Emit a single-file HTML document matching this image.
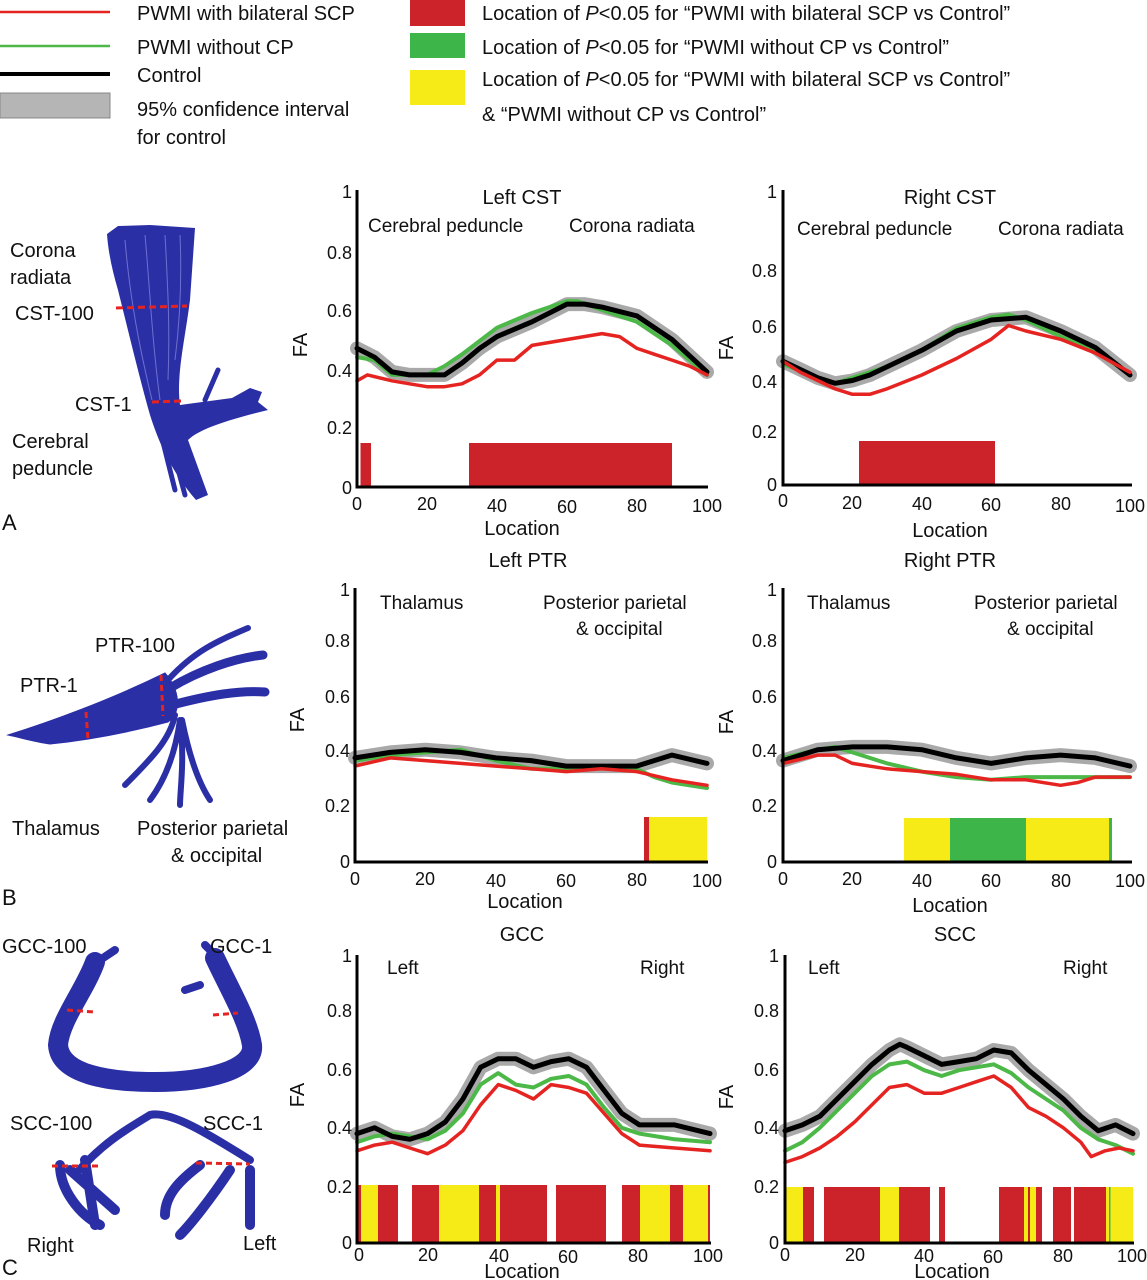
<!DOCTYPE html>
<html><head><meta charset="utf-8">
<style>
html,body{margin:0;padding:0;background:#fff;}
svg{display:block;}
text{font-family:"Liberation Sans",sans-serif;fill:#111;}
.lg{font-size:20px;}
.t{font-size:20px;text-anchor:middle;}
.r{font-size:19px;}
.tk{font-size:18px;text-anchor:end;}
.tx{font-size:18px;text-anchor:middle;}
.lab{font-size:20px;}
.pl{font-size:22px;}
.ln{fill:none;stroke-linejoin:round;stroke-linecap:round;}
</style></head>
<body>
<svg id="s" width="1147" height="1280" viewBox="0 0 1147 1280" xmlns="http://www.w3.org/2000/svg">
<!-- Legend -->
<line x1="0" y1="12" x2="110" y2="12" stroke="#e52421" stroke-width="2.5"/>
<line x1="0" y1="46" x2="110" y2="46" stroke="#4cb848" stroke-width="2.5"/>
<line x1="0" y1="74" x2="110" y2="74" stroke="#000" stroke-width="4"/>
<rect x="0" y="93" width="110" height="25" fill="#b5b5b5" stroke="#888" stroke-width="1"/>
<text class="lg" x="137" y="20">PWMI with bilateral SCP</text>
<text class="lg" x="137" y="54">PWMI without CP</text>
<text class="lg" x="137" y="82">Control</text>
<text class="lg" x="137" y="116">95% confidence interval</text>
<text class="lg" x="137" y="144">for control</text>
<rect x="410" y="0" width="55" height="26" fill="#cc2229"/>
<rect x="410" y="33" width="55" height="25" fill="#3db549"/>
<rect x="410" y="70" width="55" height="35" fill="#f6eb16"/>
<text class="lg" x="482" y="20">Location of <tspan font-style="italic">P</tspan>&lt;0.05 for “PWMI with bilateral SCP vs  Control”</text>
<text class="lg" x="482" y="54">Location of <tspan font-style="italic">P</tspan>&lt;0.05 for “PWMI without CP vs  Control”</text>
<text class="lg" x="482" y="86">Location of <tspan font-style="italic">P</tspan>&lt;0.05 for “PWMI with bilateral SCP vs  Control”</text>
<text class="lg" x="482" y="121">&amp; “PWMI without CP vs  Control”</text>

<!-- Panel letters -->
<text class="pl" x="2" y="530">A</text>
<text class="pl" x="2" y="905">B</text>
<text class="pl" x="2" y="1275">C</text>

<!-- Brain A -->
<path d="M107,234 L118,226 L150,225 L195,228 L190,300 C185,340 176,375 180,405 L232,398 L250,388 L262,392 L258,402 L268,410 C235,418 200,428 188,440 L208,495 L196,500 C170,470 158,440 150,415 C140,380 128,330 118,290 C112,270 108,250 107,234 Z" fill="#2b2fa6"/>
<g fill="none" stroke="#2b2fa6" stroke-linecap="round">
<path d="M205,400 L218,370" stroke-width="5"/>
<path d="M170,440 L185,495 M160,430 L175,490" stroke-width="5"/>
</g>
<g fill="none" stroke="#6d70d0" stroke-width="1">
<path d="M125,240 C130,300 140,350 152,400 M145,235 C150,290 152,340 160,400 M165,235 C168,290 170,330 168,380 M180,235 C182,280 180,320 175,360"/>
</g>
<line x1="116" y1="308" x2="187" y2="306" stroke="#e52421" stroke-width="3" stroke-dasharray="7,4"/>
<line x1="152" y1="402" x2="182" y2="401" stroke="#e52421" stroke-width="3" stroke-dasharray="7,4"/>
<text class="lab" x="10" y="257">Corona</text>
<text class="lab" x="10" y="284">radiata</text>
<text class="lab" x="15" y="320">CST-100</text>
<text class="lab" x="75" y="411">CST-1</text>
<text class="lab" x="12" y="448">Cerebral</text>
<text class="lab" x="12" y="475">peduncle</text>

<!-- Brain B -->
<g fill="#2b2fa6" stroke="#2b2fa6" stroke-linecap="round">
<path d="M8,735 C50,722 110,700 165,673 C180,690 182,712 168,722 C130,732 90,740 50,744 C35,742 22,738 8,735 Z"/>
<path d="M168,680 C195,650 220,640 248,628" fill="none" stroke-width="6"/>
<path d="M170,688 C200,670 235,658 263,655" fill="none" stroke-width="9"/>
<path d="M172,705 C210,695 240,690 265,692" fill="none" stroke-width="9"/>
<path d="M175,715 C170,740 150,760 125,785 M180,720 C175,755 165,780 150,800 M182,720 C190,760 200,785 210,800 M180,720 C185,760 180,790 180,805" fill="none" stroke-width="6"/>
</g>
<line x1="86" y1="712" x2="88" y2="740" stroke="#e52421" stroke-width="3" stroke-dasharray="6,4"/>
<line x1="161" y1="675" x2="163" y2="716" stroke="#e52421" stroke-width="3" stroke-dasharray="6,4"/>
<text class="lab" x="95" y="652">PTR-100</text>
<text class="lab" x="20" y="692">PTR-1</text>
<text class="lab" x="12" y="835">Thalamus</text>
<text class="lab" x="137" y="835">Posterior parietal</text>
<text class="lab" x="171" y="862">&amp; occipital</text>

<!-- Brain C -->
<g fill="none" stroke="#2b2fa6" stroke-linecap="round">
<path d="M95,962 C85,990 60,1020 58,1045 C60,1075 110,1082 155,1082 C205,1082 255,1070 252,1045 C248,1020 230,990 215,958" stroke-width="20"/>
<path d="M100,960 L115,950 M215,955 L205,945 M200,985 L185,990" stroke-width="8"/>
<path d="M75,1175 C100,1145 125,1130 150,1115 C170,1110 210,1135 250,1160" stroke-width="8"/>
<path d="M60,1165 C60,1190 80,1215 100,1225 M70,1170 L115,1210 M85,1160 L95,1225" stroke-width="10"/>
<path d="M200,1165 C180,1180 165,1195 165,1215 M230,1170 C210,1200 190,1225 180,1235 M250,1170 L250,1225" stroke-width="10"/>
</g>
<line x1="67" y1="1010" x2="94" y2="1012" stroke="#e52421" stroke-width="3" stroke-dasharray="6,4"/>
<line x1="213" y1="1015" x2="238" y2="1013" stroke="#e52421" stroke-width="3" stroke-dasharray="6,4"/>
<line x1="52" y1="1166" x2="100" y2="1166" stroke="#e52421" stroke-width="3" stroke-dasharray="6,4"/>
<line x1="196" y1="1163" x2="250" y2="1164" stroke="#e52421" stroke-width="3" stroke-dasharray="6,4"/>
<text class="lab" x="2" y="953">GCC-100</text>
<text class="lab" x="210" y="953">GCC-1</text>
<text class="lab" x="10" y="1130">SCC-100</text>
<text class="lab" x="203" y="1130">SCC-1</text>
<text class="lab" x="27" y="1252">Right</text>
<text class="lab" x="243" y="1250">Left</text>

<!-- Bars (static) -->
<g id="bars">
<rect x="360.5" y="443" width="10.5" height="44" fill="#cc2229"/>
<rect x="469" y="443" width="203" height="44" fill="#cc2229"/>
<rect x="859" y="441" width="136" height="44" fill="#cc2229"/>
<rect x="644" y="817" width="5" height="45" fill="#cc2229"/>
<rect x="649" y="817" width="58" height="45" fill="#f6eb16"/>
<rect x="904" y="818" width="46" height="44" fill="#f6eb16"/>
<rect x="950" y="818" width="76" height="44" fill="#3db549"/>
<rect x="1026" y="818" width="83" height="44" fill="#f6eb16"/>
<rect x="1109" y="818" width="3" height="44" fill="#3db549"/>
<!-- GCC -->
<rect x="358" y="1185" width="3" height="58" fill="#cc2229"/>
<rect x="361" y="1185" width="17" height="58" fill="#f6eb16"/>
<rect x="378" y="1185" width="20" height="58" fill="#cc2229"/>
<rect x="412" y="1185" width="27" height="58" fill="#cc2229"/>
<rect x="439" y="1185" width="40" height="58" fill="#f6eb16"/>
<rect x="479" y="1185" width="17" height="58" fill="#cc2229"/>
<rect x="496" y="1185" width="4" height="58" fill="#f6eb16"/>
<rect x="500" y="1185" width="47" height="58" fill="#cc2229"/>
<rect x="556" y="1185" width="50" height="58" fill="#cc2229"/>
<rect x="622" y="1185" width="18" height="58" fill="#cc2229"/>
<rect x="640" y="1185" width="30" height="58" fill="#f6eb16"/>
<rect x="670" y="1185" width="13" height="58" fill="#cc2229"/>
<rect x="683" y="1185" width="25" height="58" fill="#f6eb16"/>
<rect x="708" y="1185" width="2" height="58" fill="#cc2229"/>
<!-- SCC -->
<rect x="785" y="1187" width="18" height="56" fill="#f6eb16"/>
<rect x="803" y="1187" width="11" height="56" fill="#cc2229"/>
<rect x="824" y="1187" width="56" height="56" fill="#cc2229"/>
<rect x="880" y="1187" width="19" height="56" fill="#f6eb16"/>
<rect x="899" y="1187" width="31" height="56" fill="#cc2229"/>
<rect x="939" y="1187" width="6" height="56" fill="#cc2229"/>
<rect x="999" y="1187" width="25" height="56" fill="#cc2229"/>
<rect x="1024" y="1187" width="4" height="56" fill="#f6eb16"/>
<rect x="1028" y="1187" width="2" height="56" fill="#cc2229"/>
<rect x="1030" y="1187" width="6" height="56" fill="#f6eb16"/>
<rect x="1036" y="1187" width="6" height="56" fill="#cc2229"/>
<rect x="1053" y="1187" width="18" height="56" fill="#cc2229"/>
<rect x="1074" y="1187" width="32" height="56" fill="#cc2229"/>
<rect x="1106" y="1187" width="27" height="56" fill="#f6eb16"/>
<rect x="1109" y="1187" width="1.5" height="56" fill="#3db549"/>
</g>
<g id="curves"></g>

<!-- Axes -->
<g stroke="#000" stroke-width="3" fill="none">
<path d="M357,190 V487 H708"/>
<path d="M783,190 V485 H1132"/>
<path d="M355,588 V862 H708"/>
<path d="M783,588 V862 H1132"/>
<path d="M357,955 V1243 H711"/>
<path d="M785,955 V1243 H1134"/>
</g>

<!-- Row A text -->
<text class="t" x="522" y="204">Left CST</text>
<text class="t" x="950" y="204">Right CST</text>
<text class="r" x="368" y="232">Cerebral peduncle</text>
<text class="r" x="569" y="232">Corona radiata</text>
<text class="r" x="797" y="235">Cerebral peduncle</text>
<text class="r" x="998" y="235">Corona radiata</text>
<text class="tk" x="352" y="198">1</text><text class="tk" x="352" y="259">0.8</text><text class="tk" x="352" y="317">0.6</text><text class="tk" x="352" y="377">0.4</text><text class="tk" x="352" y="434">0.2</text><text class="tk" x="352" y="494">0</text>
<text class="tk" x="777" y="198">1</text><text class="tk" x="777" y="277">0.8</text><text class="tk" x="777" y="333">0.6</text><text class="tk" x="777" y="388">0.4</text><text class="tk" x="777" y="438">0.2</text><text class="tk" x="777" y="491">0</text>
<text class="tx" x="357" y="510">0</text><text class="tx" x="427" y="510">20</text><text class="tx" x="497" y="512">40</text><text class="tx" x="567" y="513">60</text><text class="tx" x="637" y="512">80</text><text class="tx" x="707" y="512">100</text>
<text class="tx" x="783" y="507">0</text><text class="tx" x="852" y="509">20</text><text class="tx" x="922" y="510">40</text><text class="tx" x="991" y="511">60</text><text class="tx" x="1061" y="510">80</text><text class="tx" x="1130" y="512">100</text>
<text class="t" x="522" y="535">Location</text>
<text class="t" x="950" y="537">Location</text>
<text class="t" transform="translate(307,345) rotate(-90)">FA</text>
<text class="t" transform="translate(733,348) rotate(-90)">FA</text>

<!-- Row B text -->
<text class="t" x="528" y="567">Left PTR</text>
<text class="t" x="950" y="567">Right PTR</text>
<text class="r" x="380" y="609">Thalamus</text>
<text class="r" x="543" y="609">Posterior parietal</text>
<text class="r" x="576" y="635">&amp; occipital</text>
<text class="r" x="807" y="609">Thalamus</text>
<text class="r" x="974" y="609">Posterior parietal</text>
<text class="r" x="1007" y="635">&amp; occipital</text>
<text class="tk" x="350" y="596">1</text><text class="tk" x="350" y="647">0.8</text><text class="tk" x="350" y="703">0.6</text><text class="tk" x="350" y="757">0.4</text><text class="tk" x="350" y="812">0.2</text><text class="tk" x="350" y="868">0</text>
<text class="tk" x="777" y="596">1</text><text class="tk" x="777" y="647">0.8</text><text class="tk" x="777" y="703">0.6</text><text class="tk" x="777" y="757">0.4</text><text class="tk" x="777" y="812">0.2</text><text class="tk" x="777" y="868">0</text>
<text class="tx" x="355" y="885">0</text><text class="tx" x="425" y="885">20</text><text class="tx" x="496" y="887">40</text><text class="tx" x="566" y="887">60</text><text class="tx" x="637" y="886">80</text><text class="tx" x="707" y="887">100</text>
<text class="tx" x="783" y="885">0</text><text class="tx" x="852" y="885">20</text><text class="tx" x="922" y="887">40</text><text class="tx" x="991" y="887">60</text><text class="tx" x="1061" y="887">80</text><text class="tx" x="1130" y="887">100</text>
<text class="t" x="525" y="908">Location</text>
<text class="t" x="950" y="912">Location</text>
<text class="t" transform="translate(304,720) rotate(-90)">FA</text>
<text class="t" transform="translate(733,722) rotate(-90)">FA</text>

<!-- Row C text -->
<text class="t" x="522" y="941">GCC</text>
<text class="t" x="955" y="941">SCC</text>
<text class="r" x="387" y="974">Left</text>
<text class="r" x="640" y="974">Right</text>
<text class="r" x="808" y="974">Left</text>
<text class="r" x="1063" y="974">Right</text>
<text class="tk" x="352" y="962">1</text><text class="tk" x="352" y="1017">0.8</text><text class="tk" x="352" y="1076">0.6</text><text class="tk" x="352" y="1134">0.4</text><text class="tk" x="352" y="1193">0.2</text><text class="tk" x="352" y="1249">0</text>
<text class="tk" x="779" y="962">1</text><text class="tk" x="779" y="1017">0.8</text><text class="tk" x="779" y="1076">0.6</text><text class="tk" x="779" y="1134">0.4</text><text class="tk" x="779" y="1193">0.2</text><text class="tk" x="779" y="1249">0</text>
<text class="tx" x="359" y="1261">0</text><text class="tx" x="428" y="1261">20</text><text class="tx" x="499" y="1262">40</text><text class="tx" x="568" y="1263">60</text><text class="tx" x="638" y="1262">80</text><text class="tx" x="708" y="1262">100</text>
<text class="tx" x="785" y="1261">0</text><text class="tx" x="855" y="1261">20</text><text class="tx" x="924" y="1262">40</text><text class="tx" x="993" y="1263">60</text><text class="tx" x="1063" y="1262">80</text><text class="tx" x="1132" y="1262">100</text>
<text class="t" x="522" y="1278">Location</text>
<text class="t" x="952" y="1278">Location</text>
<text class="t" transform="translate(304,1095) rotate(-90)">FA</text>
<text class="t" transform="translate(733,1097) rotate(-90)">FA</text>
</svg>
<script>
(function(){
var NS="http://www.w3.org/2000/svg",g=document.getElementById("curves");
function pts(p,d){var s=[];for(var i=0;i<d.length;i+=2){s.push((p.x0+(p.x1-p.x0)*d[i]/100).toFixed(1)+","+(p.y0-p.k*d[i+1]).toFixed(1));}return s.join(" ");}
function line(p,d,col,w){var e=document.createElementNS(NS,"polyline");e.setAttribute("points",pts(p,d));e.setAttribute("class","ln");e.setAttribute("stroke",col);e.setAttribute("stroke-width",w);g.appendChild(e);}
function plot(p,b,gr,r){line(p,b,"#a9a9a9",14);line(p,gr,"#4cb848",4);line(p,b,"#000",5);line(p,r,"#e52421",3.5);}
var A1={x0:357,x1:707,y0:487,k:295},A2={x0:783,x1:1130,y0:485,k:275},
B1={x0:355,x1:707,y0:862,k:274},B2={x0:783,x1:1130,y0:862,k:274},
C1={x0:357,x1:710,y0:1243,k:288},C2={x0:785,x1:1133,y0:1243,k:288};
plot(A1,[0,.47,5,.44,10,.39,15,.38,20,.38,25,.38,30,.42,35,.47,40,.51,50,.56,60,.62,65,.62,70,.61,80,.58,90,.50,100,.39],
[0,.44,5,.43,10,.38,15,.38,20,.38,25,.41,30,.45,40,.54,50,.59,60,.63,63,.63,70,.60,80,.56,90,.48,100,.38],
[0,.36,3,.38,10,.36,15,.35,20,.34,25,.34,30,.35,35,.38,40,.43,45,.43,50,.48,60,.50,70,.52,75,.51,80,.47,85,.45,90,.43,95,.41,100,.38]);
plot(A2,[0,.45,5,.42,10,.39,15,.37,20,.38,25,.40,30,.43,40,.49,50,.56,60,.60,70,.61,80,.56,90,.50,100,.40],
[0,.44,10,.39,15,.37,20,.39,30,.43,40,.49,50,.57,60,.61,65,.62,70,.60,80,.54,90,.49,100,.40],
[0,.45,5,.41,10,.38,15,.35,20,.33,25,.33,30,.35,40,.40,50,.46,60,.53,65,.58,70,.56,80,.53,90,.48,100,.41]);
plot(B1,[0,.38,10,.40,20,.41,30,.40,40,.38,50,.37,60,.35,70,.35,80,.35,90,.39,100,.36],
[0,.37,10,.39,20,.40,30,.41,40,.37,50,.34,60,.34,70,.35,80,.34,85,.31,90,.29,100,.27],
[0,.35,10,.38,20,.37,30,.36,40,.35,50,.34,60,.33,70,.34,80,.33,90,.30,100,.28]);
plot(B2,[0,.37,10,.41,20,.42,30,.42,40,.41,50,.38,60,.36,70,.38,80,.39,90,.38,100,.35],
[0,.38,10,.41,15,.42,20,.40,30,.36,40,.33,50,.31,60,.30,70,.31,80,.31,90,.31,100,.31],
[0,.36,10,.39,15,.39,20,.36,30,.34,40,.33,50,.32,60,.30,70,.30,80,.28,85,.29,90,.31,100,.31]);
plot(C1,[0,.38,5,.40,10,.37,15,.36,20,.38,25,.42,30,.50,35,.61,40,.64,45,.64,50,.61,55,.63,60,.64,65,.61,70,.53,75,.45,80,.41,90,.41,100,.38],
[0,.35,5,.37,10,.38,15,.37,20,.36,25,.39,30,.45,35,.55,40,.59,45,.55,50,.54,55,.57,60,.58,65,.55,70,.47,75,.40,80,.38,90,.36,100,.35],
[0,.32,5,.34,10,.35,15,.33,20,.31,25,.34,30,.39,35,.48,40,.55,45,.53,50,.50,55,.55,60,.54,65,.52,70,.45,75,.38,80,.34,90,.33,100,.32]);
plot(C2,[0,.39,5,.41,10,.44,15,.50,20,.56,25,.62,30,.67,33,.69,35,.68,40,.65,45,.62,50,.63,55,.64,60,.67,65,.66,70,.60,75,.55,80,.50,85,.44,90,.39,95,.41,100,.38],
[0,.32,5,.35,10,.40,15,.46,20,.52,25,.58,30,.62,35,.63,40,.60,45,.58,50,.60,55,.61,60,.62,65,.59,70,.54,75,.50,80,.46,85,.40,90,.36,95,.34,100,.31],
[0,.28,5,.30,10,.33,15,.37,20,.42,25,.48,30,.54,35,.55,40,.52,45,.52,50,.54,55,.56,60,.58,65,.54,70,.47,75,.44,80,.40,85,.35,88,.30,92,.32,96,.33,100,.32]);
})();
</script>
</body></html>
